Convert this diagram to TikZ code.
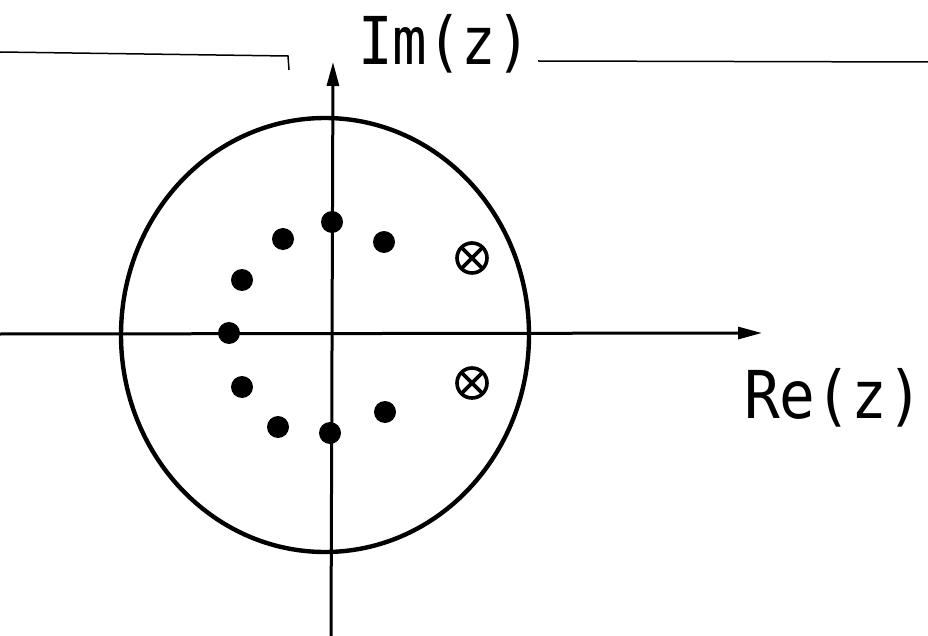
\documentclass[tikz,border=0pt]{standalone}
\usepackage{fontspec}
\newfontfamily\labelfont{DejaVu Sans Mono}
\usetikzlibrary{arrows.meta}
\begin{document}
\begin{tikzpicture}[x=1pt,y=-1pt,
  axis/.style={line width=3pt,-{Triangle[length=24pt,width=12pt]}},
  pole/.style={circle,fill=black,inner sep=0pt,minimum size=22pt},
  zero/.style={circle,draw=black,line width=3.6pt,inner sep=0pt,minimum size=30pt,
    path picture={\draw[line width=3.6pt] (path picture bounding box.north west)--(path picture bounding box.south east)
      (path picture bounding box.north east)--(path picture bounding box.south west);}},
  lbl/.style={font=\labelfont\fontsize{66}{66}\selectfont,inner sep=0pt,anchor=base west},
  edge/.style={line width=1.5pt}
]
\useasboundingbox (0,0) rectangle (928,636);
% page edge lines
\coordinate (la) at (0,52);
\coordinate (lb) at (288,56);
\coordinate (lc) at (289,70);
\coordinate (ra) at (538,61);
\coordinate (rb) at (928,62);
\draw[edge] (la) -- (lb) -- (lc);
\draw[edge] (ra) -- (rb);
% unit circle
\coordinate (O) at (325,335);
\draw[line width=4.4pt] (O) ellipse [x radius=204pt, y radius=217pt];
% axes
\coordinate (xL) at (0,334);
\coordinate (xR) at (762,333);
\coordinate (yB) at (331,636);
\coordinate (yT) at (333,62);
\draw[axis] (xL) -- (xR);
\draw[axis] (yB) -- (yT);
% poles
\node[pole] (p1) at (332,222) {};
\node[pole] (p2) at (283,239) {};
\node[pole] (p3) at (384,242) {};
\node[pole] (p4) at (242,280) {};
\node[pole] (p5) at (229,333) {};
\node[pole] (p6) at (242,387) {};
\node[pole] (p7) at (278,427) {};
\node[pole] (p8) at (330,433) {};
\node[pole] (p9) at (385,412) {};
% zeros
\node[zero] (z1) at (472,258) {};
\node[zero] (z2) at (472,383) {};
% labels
\node[lbl] (im) at (358,65) {\scalebox{0.87}[1]{Im(z)}};
\node[lbl] (re) at (744,418) {\scalebox{0.9}[1]{Re(z)}};
\end{tikzpicture}
\end{document}
